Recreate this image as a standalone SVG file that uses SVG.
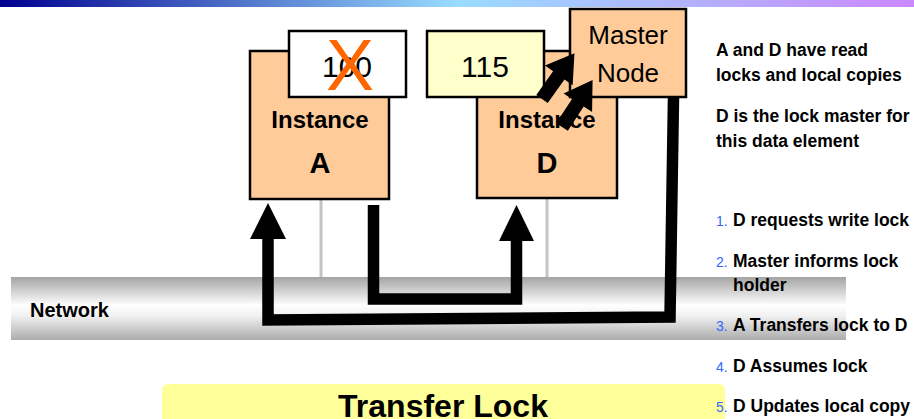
<svg xmlns="http://www.w3.org/2000/svg" width="914" height="419" viewBox="0 0 914 419">
<defs>
<linearGradient id="topbar" x1="0" y1="0" x2="1" y2="0">
<stop offset="0" stop-color="#000090"/>
<stop offset="0.5" stop-color="#99dcff"/>
<stop offset="1" stop-color="#cc88ff"/>
</linearGradient>
<linearGradient id="net" x1="0" y1="0" x2="0" y2="1">
<stop offset="0" stop-color="#a4a4a4"/>
<stop offset="0.45" stop-color="#ffffff"/>
<stop offset="0.62" stop-color="#f0f0f0"/>
<stop offset="1" stop-color="#acacac"/>
</linearGradient>
</defs>
<style>
text{font-family:"Liberation Sans",Arial,sans-serif;fill:#000}
.box{stroke:#000;stroke-width:2.5}
.inst{fill:#ffcc99}
.b{font-weight:bold}
.mid{text-anchor:middle}
.side{font-weight:bold;font-size:17.5px}
.num{fill:#3366ff;font-size:14px}
.drop{stroke:#c4c4c4;stroke-width:3;fill:none}
.thick{stroke:#000;stroke-width:11.5;fill:none;stroke-linejoin:miter}
</style>
<rect x="0" y="0" width="914" height="7" fill="url(#topbar)"/>
<g id="network">
<rect x="11" y="277" width="835" height="63" fill="url(#net)"/>
<text x="30" y="317" class="b" font-size="20">Network</text>
</g>
<g id="drops">
<line class="drop" x1="321" y1="199" x2="321" y2="277"/>
<line class="drop" x1="547" y1="198" x2="547" y2="277"/>
</g>
<g id="instanceA">
<rect class="box inst" x="250" y="51" width="139" height="148"/>
<text x="320" y="128" class="b mid" font-size="24">Instance</text>
<text x="320" y="173" class="b mid" font-size="29">A</text>
<rect class="box" x="289" y="31" width="117" height="66" fill="#ffffff"/>
<text x="347" y="77" class="mid" font-size="30">100</text>
<text x="350" y="90" class="mid" font-size="72" style="fill:#ff6600">X</text>
</g>
<g id="instanceD">
<rect class="box inst" x="477" y="51" width="140" height="147"/>
<text x="547" y="128" class="b mid" font-size="24">Instance</text>
<text x="547" y="173" class="b mid" font-size="29">D</text>
<rect class="box" x="427" y="31" width="117" height="66" fill="#ffffcc"/>
<text x="485" y="77" class="mid" font-size="30">115</text>
</g>
<g id="master">
<rect class="box inst" x="570" y="9" width="116" height="88"/>
<text x="628" y="44" class="mid" font-size="26">Master</text>
<text x="628" y="82" class="mid" font-size="26">Node</text>
</g>
<g id="connectors">
<path class="thick" d="M373.5,205 V299 H516.5 V238"/>
<polygon points="499,241 534,241 516.5,205"/>
<path class="thick" d="M673.5,97 L670,317 L268,320 L268,236"/>
<polygon points="250,239 286,239 268,203"/>
<polygon points="0,-7 29,-7 29,-17 56,0 29,17 29,7 0,7" transform="translate(542,99) rotate(-54.6)"/>
<polygon points="0,-7 29,-7 29,-17 56,0 29,17 29,7 0,7" transform="translate(562,127) rotate(-56.9)"/>
</g>
<g id="title">
<rect x="162" y="384" width="563" height="50" rx="6" fill="#ffff99"/>
<text x="443" y="417" class="b mid" font-size="32">Transfer Lock</text>
</g>
<g id="notes">
<text x="716" y="56" class="side">A and D have read</text>
<text x="716" y="81" class="side">locks and local copies</text>
<text x="716" y="122" class="side">D is the lock master for</text>
<text x="716" y="147" class="side">this data element</text>
<text x="716" y="226" class="num">1.</text>
<text x="733" y="226" class="side">D requests write lock</text>
<text x="716" y="267" class="num">2.</text>
<text x="733" y="267" class="side">Master informs lock</text>
<text x="733" y="291" class="side">holder</text>
<text x="716" y="331" class="num">3.</text>
<text x="733" y="331" class="side">A Transfers lock to D</text>
<text x="716" y="372" class="num">4.</text>
<text x="733" y="372" class="side">D Assumes lock</text>
<text x="716" y="412" class="num">5.</text>
<text x="733" y="412" class="side">D Updates local copy</text>
</g>
</svg>
